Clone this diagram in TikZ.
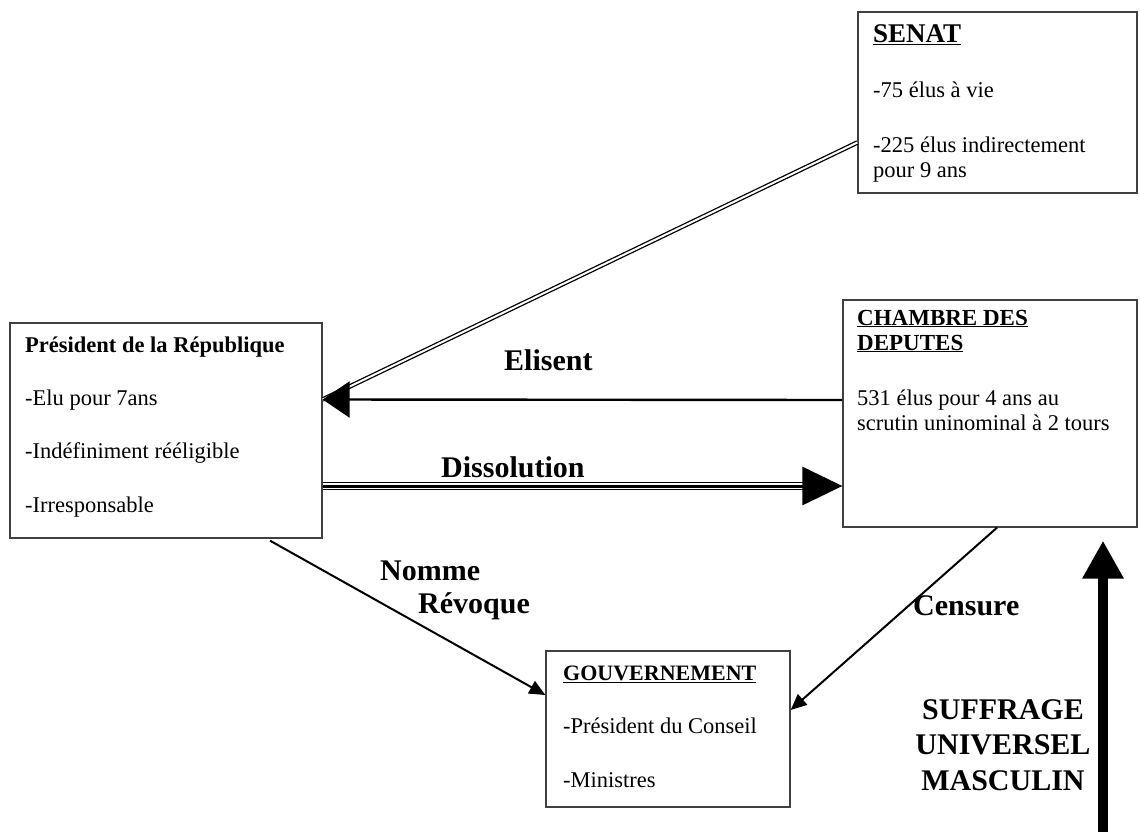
\documentclass[tikz,border=0pt]{standalone}
\usepackage{fontspec}
\setmainfont{Liberation Serif}
\usetikzlibrary{arrows.meta}
\tikzset{
  box/.style={draw=black!75, line width=1.3pt, rectangle, inner sep=0pt},
  txt/.style={anchor=base west, inner sep=0pt, font=\fontsize{22.5}{25}\selectfont},
  lbl/.style={anchor=base west, inner sep=0pt, font=\fontsize{30}{35}\selectfont\bfseries},
  conn/.style={line width=2pt, -{Triangle[length=16pt,width=14pt]}},
}
\begin{document}
\begin{tikzpicture}[x=1pt,y=-1pt]
\useasboundingbox (0,0) rectangle (1140,832);
% boxes
\node[box, minimum width=279pt, minimum height=181pt] (senat) at (997.5,102.5) {};
\node[box, minimum width=312pt, minimum height=215pt] (pres) at (166,430.5) {};
\node[box, minimum width=294pt, minimum height=227pt] (chambre) at (990,413.5) {};
\node[box, minimum width=244pt, minimum height=156pt] (gouv) at (668,729) {};
% senat text
\node[txt, font=\fontsize{27}{30}\selectfont\bfseries] (s0) at (873,43) {\underline{SENAT}};
\node[txt] (s1) at (873,98) {-75 élus à vie};
\node[txt] (s2) at (873,152) {-225 élus indirectement};
\node[txt] (s3) at (873,177) {pour 9 ans};
% president text
\node[txt, font=\fontsize{22.5}{25}\selectfont\bfseries] (p0) at (25,352) {Président de la République};
\node[txt] (p1) at (25,405) {-Elu pour 7ans};
\node[txt] (p2) at (25,458) {-Indéfiniment rééligible};
\node[txt] (p3) at (25,512) {-Irresponsable};
% chambre text
\node[txt, font=\fontsize{23}{25}\selectfont\bfseries] (c0) at (857,325) {\underline{CHAMBRE DES}};
\node[txt, font=\fontsize{23}{25}\selectfont\bfseries] (c1) at (857,350) {\underline{DEPUTES}};
\node[txt] (c2) at (857,405) {531 élus pour 4 ans au};
\node[txt] (c3) at (857,430) {scrutin uninominal à 2 tours};
% gouvernement text
\node[txt, font=\fontsize{22}{25}\selectfont\bfseries] (g0) at (563,680) {\underline{GOUVERNEMENT}};
\node[txt] (g1) at (563,733) {-Président du Conseil};
\node[txt] (g2) at (563,787) {-Ministres};
% connectors
\draw[double, line width=1.3pt, double distance=2pt] ([yshift=-40pt]senat.west) -- ([yshift=31pt]pres.east);
\draw[line width=2.4pt, -{Triangle[length=27pt,width=36pt]}] ([yshift=13.5pt]chambre.west) -- ([yshift=31pt]pres.east);
\draw[line width=1.2pt, double distance=5.5pt] ([yshift=-55.5pt]pres.east) -- ([xshift=-38pt,yshift=-72.5pt]chambre.west);
\draw[line width=3pt, -{Triangle[length=40pt,width=38pt]}] ([yshift=-55.5pt]pres.east) -- ([yshift=-72.5pt]chambre.west);
\draw[conn] ([xshift=104pt,yshift=-2pt]pres.south) -- ([yshift=34pt]gouv.west);
\draw[conn] ([xshift=7pt]chambre.south) -- ([yshift=19pt]gouv.east);
\coordinate (su) at (1103,832);
\draw[line width=10pt, -{Triangle[length=38pt,width=39pt]}] (su) -- ([xshift=113pt,yshift=-13pt]chambre.south);
% labels
\node[lbl] (l1) at (504,370) {Elisent};
\node[lbl] (l2) at (441,477) {Dissolution};
\node[lbl] (l3) at (380,580) {Nomme};
\node[lbl] (l4) at (418,613) {Révoque};
\node[lbl] (l5) at (913,615) {Censure};
\node[anchor=base, inner sep=0pt, align=center, font=\fontsize{30}{35.5}\selectfont\bfseries] (l6) at (1003,790) {SUFFRAGE\\UNIVERSEL\\MASCULIN};
\end{tikzpicture}
\end{document}
